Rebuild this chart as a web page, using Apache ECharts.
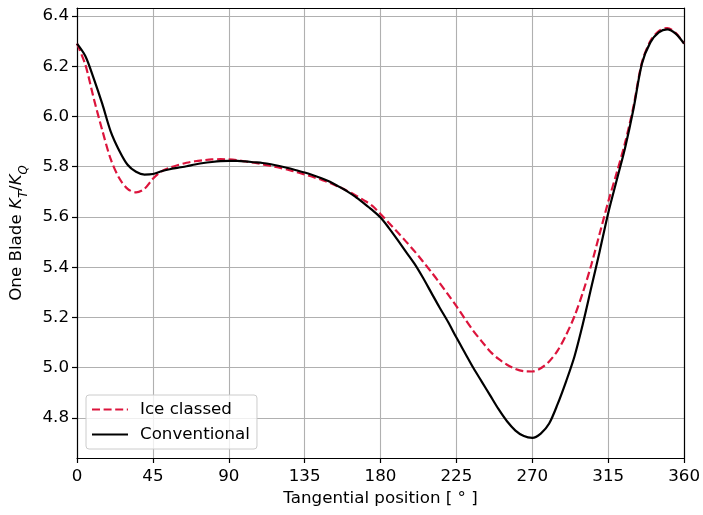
<!DOCTYPE html>
<html>
<head>
<meta charset="utf-8">
<script src="https://cdn.jsdelivr.net/npm/echarts@6/dist/echarts.min.js"></script>
<style>
  html, body { margin: 0; padding: 0; background: #fff; }
  #chart { width: 703px; height: 515px; }
</style>
</head>
<body>
<div id="chart"></div>
<script>
// Tangential position of the blade, degrees
const angles = [
  0, 5, 10, 15, 20, 25, 30, 35, 40, 45,
  50, 55, 60, 65, 70, 75, 80, 85, 90, 95,
  100, 105, 110, 115, 120, 125, 130, 135, 140, 145,
  150, 155, 160, 165, 170, 175, 180, 185, 190, 195,
  200, 205, 210, 215, 220, 225, 230, 235, 240, 245,
  250, 255, 260, 265, 270, 275, 280, 285, 290, 295,
  300, 305, 310, 315, 320, 325, 330, 335, 340, 345,
  350, 355, 360
];

// One-blade KT/KQ ratio, ice-classed propeller
const iceClassed = [
  6.29, 6.205, 6.07, 5.945, 5.83, 5.755, 5.712, 5.698, 5.712, 5.752,
  5.781, 5.796, 5.807, 5.816, 5.822, 5.826, 5.829, 5.83, 5.829, 5.826,
  5.821, 5.816, 5.81, 5.803, 5.796, 5.788, 5.779, 5.769, 5.759, 5.748,
  5.736, 5.721, 5.705, 5.687, 5.667, 5.645, 5.612, 5.576, 5.54, 5.503,
  5.465, 5.424, 5.382, 5.338, 5.292, 5.245, 5.195, 5.147, 5.105, 5.065,
  5.035, 5.012, 4.995, 4.986, 4.985, 4.998, 5.025, 5.068, 5.13, 5.205,
  5.30, 5.41, 5.535, 5.66, 5.775, 5.895, 6.04, 6.215, 6.3, 6.34,
  6.352, 6.333, 6.29
];

// One-blade KT/KQ ratio, conventional propeller
const conventional = [
  6.29, 6.24, 6.15, 6.05, 5.94, 5.865, 5.808, 5.78, 5.769, 5.771,
  5.782, 5.79, 5.796, 5.802, 5.809, 5.815, 5.819, 5.822, 5.823, 5.823,
  5.821, 5.818, 5.815, 5.81, 5.803, 5.795, 5.786, 5.777, 5.766, 5.754,
  5.74, 5.722, 5.703, 5.681, 5.655, 5.628, 5.598, 5.556, 5.51, 5.462,
  5.415, 5.36, 5.30, 5.24, 5.183, 5.12, 5.06, 5.00, 4.945, 4.89,
  4.835, 4.787, 4.75, 4.728, 4.721, 4.738, 4.778, 4.855, 4.945, 5.045,
  5.175, 5.32, 5.465, 5.615, 5.745, 5.875, 6.03, 6.21, 6.295, 6.335,
  6.347, 6.33, 6.29
];

const xTicks = [0, 45, 90, 135, 180, 225, 270, 315, 360];
const yTicks = [4.8, 5.0, 5.2, 5.4, 5.6, 5.8, 6.0, 6.2, 6.4];

const FONT = 'DejaVu Sans';
const FS = 16.7;
const pairs = (vals) => angles.map((a, i) => [a, vals[i]]);

const chart = echarts.init(document.getElementById('chart'), null, { renderer: 'canvas' });

chart.setOption({
  animation: false,
  backgroundColor: '#fff',
  textStyle: { fontFamily: FONT, color: '#000' },
  grid: { left: 77, right: 17, top: 8, bottom: 57, containLabel: false },
  legend: {
    orient: 'vertical',
    left: 86,
    top: 395,
    itemWidth: 36,
    itemHeight: 17,
    itemGap: 8,
    padding: [6, 7, 6, 5],
    backgroundColor: 'rgba(255,255,255,0.8)',
    borderColor: '#cccccc',
    borderWidth: 1,
    borderRadius: 3,
    itemStyle: { opacity: 0 },
    textStyle: { fontFamily: FONT, fontSize: FS, color: '#000', padding: [0, 0, 0, 7] },
    data: ['Ice classed', 'Conventional']
  },
  xAxis: [{
    type: 'value',
    min: 0,
    max: 360,
    interval: 45,
    name: 'Tangential position [ ° ]',
    nameLocation: 'middle',
    nameGap: 32,
    nameTextStyle: { fontFamily: FONT, fontSize: FS, color: '#000' },
    axisLine: { show: true, onZero: false, lineStyle: { color: '#000', width: 1.2 } },
    axisTick: { show: true, length: 5, inside: false, customValues: xTicks, lineStyle: { color: '#000', width: 1.2 } },
    axisLabel: { fontFamily: FONT, fontSize: FS, color: '#000', margin: 10, customValues: xTicks },
    splitLine: { show: true, lineStyle: { color: '#b0b0b0', width: 1.1 } }
  }, {
    type: 'value',
    position: 'top',
    min: 0,
    max: 360,
    axisLine: { show: true, onZero: false, lineStyle: { color: '#000', width: 1.2 } },
    axisTick: { show: false },
    axisLabel: { show: false },
    splitLine: { show: false }
  }],
  yAxis: [{
    type: 'value',
    min: 4.6408,
    max: 6.4318,
    name: '{n|One Blade }{k|K}{s|T}{n|/}{k|K}{s|Q}',
    nameLocation: 'middle',
    nameGap: 47,
    nameTextStyle: {
      fontFamily: FONT,
      fontSize: FS,
      color: '#000',
      rich: {
        n: { fontFamily: FONT, fontSize: FS, color: '#000', lineHeight: 22, verticalAlign: 'top' },
        k: { fontFamily: FONT, fontSize: FS, fontStyle: 'italic', color: '#000', lineHeight: 22, verticalAlign: 'top' },
        s: { fontFamily: FONT, fontSize: 11.7, fontStyle: 'italic', color: '#000', lineHeight: 22, verticalAlign: 'bottom' }
      }
    },
    axisLine: { show: true, onZero: false, lineStyle: { color: '#000', width: 1.2 } },
    axisTick: { show: true, length: 5, inside: false, customValues: yTicks, lineStyle: { color: '#000', width: 1.2 } },
    axisLabel: {
      fontFamily: FONT, fontSize: FS, color: '#000', margin: 8,
      customValues: yTicks,
      formatter: (v) => v.toFixed(1)
    },
    splitLine: { show: true, lineStyle: { color: '#b0b0b0', width: 1.1 } }
  }, {
    type: 'value',
    position: 'right',
    min: 4.6408,
    max: 6.4318,
    axisLine: { show: true, onZero: false, lineStyle: { color: '#000', width: 1.2 } },
    axisTick: { show: false },
    axisLabel: { show: false },
    splitLine: { show: false }
  }],
  series: [{
    name: 'Ice classed',
    type: 'line',
    data: pairs(iceClassed),
    symbol: 'none',
    smooth: 0.3,
    color: '#dc143c',
    lineStyle: { color: '#dc143c', width: 2.2, type: [8, 3.6] },
    z: 3
  }, {
    name: 'Conventional',
    type: 'line',
    data: pairs(conventional),
    symbol: 'none',
    smooth: 0.3,
    color: '#000',
    lineStyle: { color: '#000', width: 2.2, type: 'solid' },
    z: 4
  }]
});
</script>
</body>
</html>
